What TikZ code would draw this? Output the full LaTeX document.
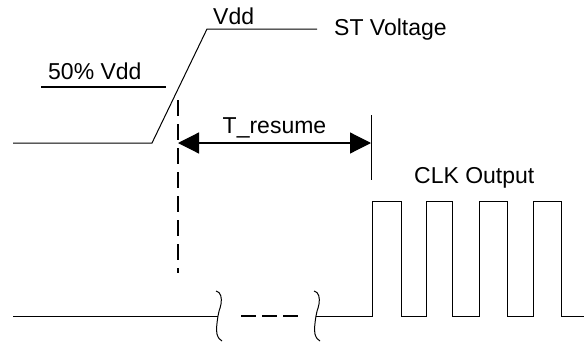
\documentclass[tikz,border=0pt]{standalone}
\usepackage{fontspec}
\setmainfont{Liberation Sans}
\usetikzlibrary{arrows.meta}
\tikzset{
  lbl/.style={inner sep=0pt, anchor=base west, font=\fontsize{23}{27}\selectfont},
  thin/.style={line width=1pt, black},
  thick2/.style={line width=2pt, black},
  brk/.pic={\draw[line width=1pt] (-2,-25) .. controls (3,-24) and (4,-18) .. (3,-12)
      .. controls (2,-6) and (0,-4) .. (0,0)
      .. controls (-1,6) and (-2,14) .. (-1,18)
      .. controls (0,22) and (2,24) .. (4,25);},
  dimarrow/.style={line width=1.2pt, {Triangle[length=21pt,width=21pt]}-{Triangle[length=21pt,width=21pt]}}
}
\begin{document}
\begin{tikzpicture}[x=1pt,y=-1pt]
\useasboundingbox (0,0) rectangle (584,343);
% ST voltage waveform
\coordinate (s0) at (13,143);
\coordinate (s1) at (152,143);
\coordinate (s2) at (207,29);
\coordinate (s3) at (317,29);
\draw[thin] (s0) -- (s1) -- (s2) -- (s3);
\node[lbl] (vdd) at (213,24) {Vdd};
\node[lbl] (stv) at (334,35) {ST Voltage};
% 50% Vdd
\node[lbl] (half) at (48,79) {50\% Vdd};
\coordinate (h0) at (41,87);
\coordinate (h1) at (166,87);
\draw[thick2] (h0) -- (h1);
% dashed marker
\coordinate (d0) at (178,100);
\coordinate (d1) at (178,273);
\draw[thick2, dash pattern=on 16pt off 8pt] (d0) -- (d1);
% right marker
\coordinate (m0) at (371,115);
\coordinate (m1) at (371,180);
\draw[thin] (m0) -- (m1);
% T_resume arrow
\coordinate (a0) at (178,143);
\coordinate (a1) at (371,143);
\draw[dimarrow] (a0) -- (a1);
\node[lbl, anchor=base] (tres) at (274.5,133) {T\_resume};
% CLK output
\node[lbl] (clk) at (414,183) {CLK Output};
\coordinate (c0) at (13,316);
\coordinate (j1) at (218,316);
\coordinate (j2) at (316,316);
\coordinate (p0) at (372,316);
\draw[thin] (c0) -- (j1);
\pic at (j1) {brk};
\pic at (j2) {brk};
\coordinate (g0) at (241,316);
\coordinate (g1) at (298,316);
\draw[line width=2.5pt, dash pattern=on 15pt off 6pt] (g0) -- (g1);
\draw[thin] (j2) -- (p0) -- (372,201) -- (401,201) -- (401,316) -- (426,316) -- (426,201)
  -- (452,201) -- (452,316) -- (479,316) -- (479,201) -- (507,201) -- (507,316)
  -- (533,316) -- (533,201) -- (561,201) -- (561,316) -- (584,316);
\end{tikzpicture}
\end{document}
